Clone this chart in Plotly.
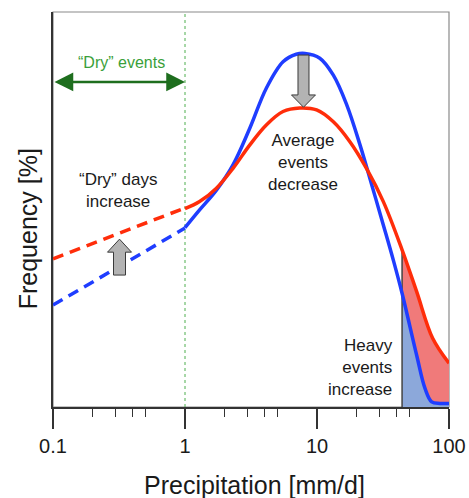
import math
import plotly.graph_objects as go

# ---------------- data ----------------
dry_x = [0.1, 0.2, 0.5, 1.0]
blue_dry = [25.8, 31.7, 39.4, 45.3]
red_dry = [37.5, 41.4, 46.5, 50.4]

blue_x = [1.0, 1.29, 1.73, 2.31, 3.09, 4.13, 5.53, 6.97, 8.11, 10.5, 13.3, 16.8,
          21.2, 26.0, 31.8, 38.0, 44.1, 56.9, 65.8, 73.9, 85.5, 100.0]
blue_y = [45.4, 49.9, 54.9, 61.3, 70.5, 80.7, 87.4, 89.3, 89.5, 88.3, 84.0, 76.5,
          66.3, 56.2, 46.1, 37.0, 28.8, 13.1, 4.7, 1.3, 0.9, 0.9]

red_x = [1.0, 1.29, 1.73, 2.31, 3.09, 4.13, 5.53, 7.40, 9.93, 13.3, 17.8, 23.7,
         31.8, 44.1, 56.9, 75.2, 100.0]
red_y = [50.2, 52.0, 55.4, 60.4, 66.3, 71.4, 74.8, 75.7, 75.2, 72.2, 67.1, 60.4,
         52.0, 39.8, 29.2, 17.4, 11.1]

heavy_threshold = 44.1
dry_threshold = 1.0

tick_vals = [0.1, 1, 10, 100]
tick_text = ["0.1", "1", "10", "100"]
minor_vals = [m * d for d in [0.1, 1, 10] for m in [2, 3, 4, 5]]

# block arrows: (x centre, y tail, y head-base, y tip)
arrow_down = (7.9, 89.1, 79.0, 75.9)
arrow_up = (0.319, 33.4, 39.2, 42.5)

# ---------------- styling ----------------
BLUE = "#1f3dff"
RED = "#ff2d0a"
FONT = "Liberation Sans, Arial, sans-serif"
TXT = "#1a1a1a"
PX_PER_DECADE = 132.0

fig = go.Figure()

# shaded heavy-event areas
bfx = [x for x in blue_x if x >= heavy_threshold]
bfy = [y for x, y in zip(blue_x, blue_y) if x >= heavy_threshold]
rfx = [x for x in red_x if x >= heavy_threshold]
rfy = [y for x, y in zip(red_x, red_y) if x >= heavy_threshold]
fig.add_trace(go.Scatter(x=bfx, y=bfy, mode="lines", line=dict(width=0),
                         fill="tozeroy", fillcolor="rgba(140,168,218,1)", hoverinfo="skip"))
fig.add_trace(go.Scatter(x=rfx, y=rfy, mode="lines", line=dict(width=0),
                         fill="tonexty", fillcolor="rgba(240,122,122,1)", hoverinfo="skip"))
fig.add_trace(go.Scatter(x=[heavy_threshold, heavy_threshold], y=[0, rfy[0]], mode="lines",
                         line=dict(color="#444444", width=1.5), hoverinfo="skip"))

# dry threshold line
fig.add_trace(go.Scatter(x=[dry_threshold, dry_threshold], y=[0, 100], mode="lines",
                         line=dict(color="#4fae4f", width=1, dash="3px,3px"), hoverinfo="skip"))

# curves
fig.add_trace(go.Scatter(x=dry_x, y=red_dry, mode="lines",
                         line=dict(color=RED, width=3.5, dash="11px,7px")))
fig.add_trace(go.Scatter(x=dry_x, y=blue_dry, mode="lines",
                         line=dict(color=BLUE, width=3.5, dash="11px,7px")))
fig.add_trace(go.Scatter(x=blue_x, y=blue_y, mode="lines",
                         line=dict(color=BLUE, width=3.5, shape="spline", smoothing=1.0)))
fig.add_trace(go.Scatter(x=red_x, y=red_y, mode="lines",
                         line=dict(color=RED, width=3.5, shape="spline", smoothing=1.0)))


def block_arrow(spec, shaft_px, head_px):
    xc, y0, yb, yt = spec
    lc = math.log10(xc)
    ds = shaft_px / 2 / PX_PER_DECADE
    dh = head_px / 2 / PX_PER_DECADE
    lx = [lc - ds, lc + ds, lc + ds, lc + dh, lc, lc - dh, lc - ds, lc - ds]
    ly = [y0, y0, yb, yb, yt, yb, yb, y0]
    return go.Scatter(x=[10 ** v for v in lx], y=ly, mode="lines", fill="toself",
                      fillcolor="#b3b3b3", line=dict(color="#3a3a3a", width=1), hoverinfo="skip")


fig.add_trace(block_arrow(arrow_down, 11, 24))
fig.add_trace(block_arrow(arrow_up, 12, 24))

annotations = [
    # green double arrow
    dict(x=math.log10(dry_threshold), y=82.3, ax=-1, ay=82.3, xref="x", yref="y",
         axref="x", ayref="y", text="", showarrow=True, arrowside="end+start",
         arrowhead=2, startarrowhead=2, arrowsize=1.5, startarrowsize=1.5,
         arrowwidth=2.5, arrowcolor="#1e6e1e", standoff=0, startstandoff=0),
    dict(x=math.log10(0.333), y=87.3, text="“Dry” events", showarrow=False,
         font=dict(family=FONT, size=16, color="#3aa03a")),
    dict(x=math.log10(0.31), y=54.9, text="“Dry” days<br>increase", showarrow=False,
         font=dict(family=FONT, size=17, color=TXT)),
    dict(x=math.log10(7.9), y=62.0, text="Average<br>events<br>decrease", showarrow=False,
         font=dict(family=FONT, size=17, color=TXT)),
    dict(x=1.591, y=9.9, text="Heavy<br>events<br>increase", showarrow=False,
         xanchor="right", align="right", font=dict(family=FONT, size=17, color=TXT)),
    dict(x=-0.063, y=0.45, xref="paper", yref="paper", text="Frequency [%]",
         xanchor="center", yanchor="middle",
         textangle=-90, showarrow=False, font=dict(family=FONT, size=25, color=TXT)),
    dict(x=0.51, y=-0.197, xref="paper", yref="paper", text="Precipitation [mm/d]",
         xanchor="center", yanchor="middle",
         showarrow=False, font=dict(family=FONT, size=25, color=TXT)),
]

fig.update_layout(
    width=469, height=498,
    margin=dict(l=53, r=20, t=12, b=91, autoexpand=False),
    paper_bgcolor="white", plot_bgcolor="white",
    showlegend=False,
    annotations=annotations,
    shapes=[dict(type="rect", xref="paper", yref="paper", x0=0, y0=0, x1=1, y1=1,
                 line=dict(color="#8a8a8a", width=1.2), layer="below")],
)
fig.update_xaxes(
    type="log", range=[-1, 2], tickvals=tick_vals, ticktext=tick_text,
    ticks="outside", ticklen=20, tickwidth=1.5, tickcolor="#333",
    showline=True, linecolor="#333", linewidth=1.5,
    showgrid=False, zeroline=False, automargin=False, ticklabeloverflow="allow",
    tickfont=dict(family=FONT, size=20, color=TXT),
    minor=dict(tickmode="array", tickvals=minor_vals, ticks="outside",
               ticklen=8, tickwidth=1.2, tickcolor="#333", showgrid=False),
)
fig.update_yaxes(
    range=[0, 100], showticklabels=False, ticks="", showgrid=False, zeroline=False,
    showline=True, linecolor="#333", linewidth=1.5, automargin=False,
)

# remove the default 8px page margin so the figure fills the window exactly
fig.write_html(
    "out.html",
    config={"displayModeBar": False},
    post_script="document.body.style.margin='0';document.body.style.overflow='hidden';",
)
